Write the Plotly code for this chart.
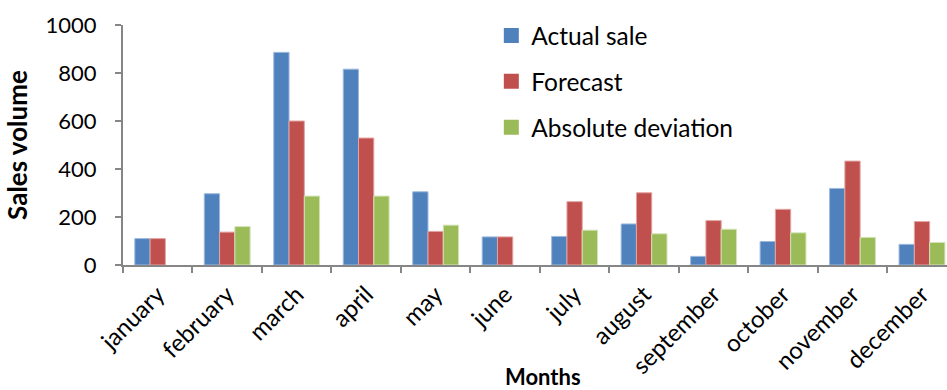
import plotly.graph_objects as go

months = ["january", "february", "march", "april", "may", "june", "july",
          "august", "september", "october", "november", "december"]
actual_sale = [110, 297, 886, 816, 305, 117, 119, 171, 36, 98, 319, 86]
forecast = [110, 137, 600, 529, 140, 117, 264, 301, 185, 232, 433, 181]
abs_deviation = [0, 160, 287, 287, 166, 0, 145, 130, 149, 134, 115, 94]

FONT = "Lato, 'Open Sans', sans-serif"

fig = go.Figure()
series = [
    ("Actual sale", actual_sale, "#4F81BD", "#9DB9DD"),
    ("Forecast", forecast, "#C0504D", "#E3A4A2"),
    ("Absolute deviation", abs_deviation, "#9BBB59", "#D3E3B5"),
]
for i, (name, vals, col, edge) in enumerate(series):
    fig.add_trace(go.Bar(
        x=months, y=vals, name=name, legendgroup=f"g{i}", showlegend=False,
        marker=dict(color=col, line=dict(color=edge, width=[0 if v == 0 else 1 for v in vals])),
    ))
    # legend entry with a larger square swatch
    fig.add_trace(go.Scatter(
        x=[None], y=[None], mode="markers", name=name, legendgroup=f"g{i}",
        marker=dict(symbol="square", size=15, color=col),
    ))

fig.update_layout(
    width=947, height=390,
    margin=dict(l=123, r=0, t=25, b=125),
    paper_bgcolor="white", plot_bgcolor="white",
    barmode="group", bargap=0.34, bargroupgap=0,
    font=dict(family=FONT, size=22, color="#000000"),
    showlegend=True,
    legend=dict(
        x=0.447, xanchor="left", y=1.05, yanchor="top",
        bgcolor="rgba(0,0,0,0)", tracegroupgap=11,
        font=dict(family=FONT, size=24.5, color="#000000"),
        itemwidth=30,
    ),
    annotations=[dict(
        text="<b>Months</b>", xref="paper", yref="paper",
        x=0.51, y=-0.4625, xanchor="center", yanchor="middle", showarrow=False,
        font=dict(family=FONT, size=22, color="#000000"),
    )],
)
fig.update_xaxes(
    range=[-0.5, 11.36],
    showline=True, linecolor="#868686", linewidth=2,
    ticks="outside", tickson="boundaries", ticklen=6, tickcolor="#868686", tickwidth=2,
    tickangle=-45, showgrid=False, ticklabelstandoff=4,
    tickfont=dict(family=FONT, size=24),
)
fig.update_yaxes(
    range=[0, 1000], dtick=200,
    showline=True, linecolor="#868686", linewidth=2,
    ticks="outside", ticklen=6, tickcolor="#868686", tickwidth=2,
    showgrid=False, zeroline=False, ticklabelstandoff=14,
    tickfont=dict(family=FONT, size=22),
    title=dict(text="<b>Sales volume</b>", font=dict(family=FONT, size=26), standoff=10),
)

fig.write_html("out.html")
